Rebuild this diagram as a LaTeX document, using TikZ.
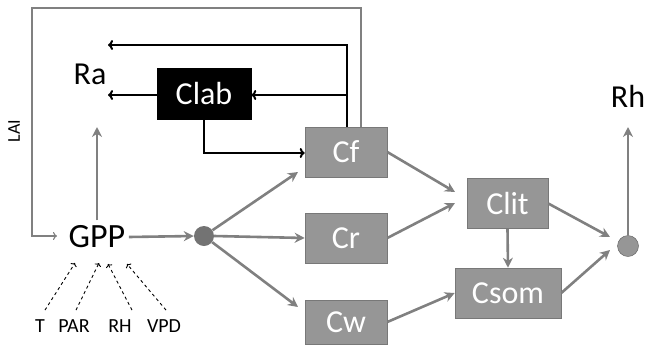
\documentclass[tikz,border=0pt]{standalone}
\usepackage{fontspec}
\setmainfont{Carlito}
\usetikzlibrary{arrows.meta}

\definecolor{boxgray}{RGB}{150,150,150}
\definecolor{linegray}{RGB}{128,128,128}

\def\boxfont{\fontsize{32}{32}\selectfont}

\begin{document}
\begin{tikzpicture}[x=1pt, y=-1pt,
    pool/.style={draw=boxgray!80!black, line width=0.6pt, fill=boxgray, text=white, minimum height=50pt, inner sep=0pt, font=\boxfont},
    flux/.style={font=\fontsize{32}{32}\selectfont},
    driver/.style={font=\fontsize{20}{20}\selectfont},
    dot/.style={circle, fill=linegray!90!black, minimum size=20pt, inner sep=0pt},
    grayarr/.style={draw=linegray, line width=2.6pt, -{Stealth[length=10pt, width=10pt]}},
    blackarr/.style={draw=black, line width=2pt, -{To[length=5pt, width=10pt]}},
    thinarr/.style={draw=linegray, line width=1.1pt, -{To[length=4pt, width=8pt]}},
    dasharr/.style={draw=black, line width=0.9pt, dashed, -{To[length=3pt, width=7pt]}}]
  \useasboundingbox (0,0) rectangle (646,349);

  % pools
  \node[pool, minimum width=82pt] (cf) at (346, 152) {Cf};
  \node[pool, minimum width=82pt] (cr) at (346, 238) {Cr};
  \node[pool, minimum width=82pt, minimum height=44pt] (cw) at (346, 322) {Cw};
  \node[pool, minimum width=81pt] (clit) at (507.5, 203.5) {Clit};
  \node[pool, minimum width=106pt] (csom) at (508, 293) {Csom};
  \node[pool, minimum width=94pt, minimum height=51pt, fill=black, draw=black] (clab) at (204, 93.5) {Clab};

  % fluxes and drivers
  \node[flux] (ra) at (90, 74) {Ra};
  \node[flux] (rh) at (628, 96) {Rh};
  \node[font=\fontsize{34}{34}\selectfont] (gpp) at (97, 237) {GPP};
  \node[driver] (t) at (40, 326) {T};
  \node[driver] (par) at (74, 326) {PAR};
  \node[driver] (rhum) at (120, 326) {RH};
  \node[driver] (vpd) at (164, 326) {VPD};
  \node[font=\fontsize{18}{18}\selectfont, rotate=90] (lai) at (14, 131) {LAI};

  \node[dot] (split) at (204, 236) {};
  \node[dot, minimum size=21pt, draw=linegray!70!black, fill=boxgray] (resp) at (628, 246) {};

  % free ends
  \coordinate (raup) at (108, 45);
  \coordinate (ramid) at (108, 95);
  \coordinate (gppup) at (97, 127);
  \coordinate (rhup) at (628, 127);
  \coordinate (cfin) at (298, 172);
  \coordinate (cwin) at (298, 307);
  \coordinate (litin1) at (455, 192);
  \coordinate (litin2) at (455, 203);
  \coordinate (respin1) at (610, 237);
  \coordinate (respin2) at (610, 250);
  \coordinate (laiend) at (57, 236);
  \coordinate (tend) at (75, 263);
  \coordinate (parend) at (99, 263);
  \coordinate (rhend) at (108, 264);
  \coordinate (vpdend) at (127, 264);

  % gray carbon flows
  \draw[grayarr] (gpp.north) ++(0,-2) -- (gppup);
  \draw[grayarr] (gpp.east) -- (split.west);
  \draw[grayarr] (split) -- (cfin);
  \draw[grayarr] (split.east) -- (cr.west);
  \draw[grayarr] (split) -- (cwin);
  \draw[grayarr] (cf.east) -- (litin1);
  \draw[grayarr] (cr.east) -- (litin2);
  \draw[grayarr] (clit.south) -- (csom.north);
  \draw[grayarr] (cw.east) -- (csom.west);
  \draw[grayarr] (clit.east) -- (respin1);
  \draw[grayarr] (csom.east) -- (respin2);
  \draw[grayarr] (resp.north) -- (rhup);

  % labile pool
  \draw[blackarr] (cf.north -| 347,0) -- (347, 45) -- (raup);
  \draw[blackarr] (347, 95) -- (clab.east |- 0,95);
  \draw[blackarr] (clab.west |- 0,95) -- (ramid);
  \draw[blackarr] (clab.south) -- (204, 153) -- (cf.west |- 0,153);

  % LAI feedback
  \draw[thinarr] (cf.north -| 361,0) -- (361, 8) -- (32, 8) -- (32, 236) -- (laiend);

  % drivers
  \draw[dasharr] (t.north) ++(5,-6) -- (tend);
  \draw[dasharr] (par.north) ++(2,-6) -- (parend);
  \draw[dasharr] (rhum.north) ++(12,-6) -- (rhend);
  \draw[dasharr] (vpd.north) ++(2,-6) -- (vpdend);
\end{tikzpicture}
\end{document}
